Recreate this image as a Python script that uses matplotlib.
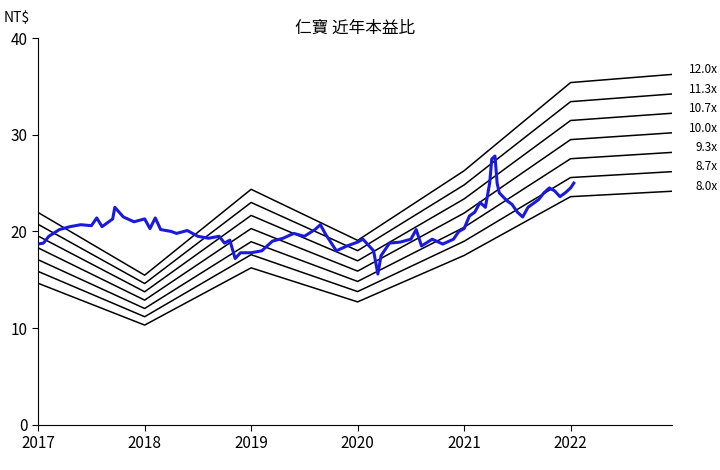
import matplotlib
matplotlib.use("Agg")
import numpy as np
from matplotlib import pyplot as plt
from matplotlib import font_manager

# pick any installed CJK font
cjk = [f.name for f in font_manager.fontManager.ttflist if "CJK" in f.name]
pref = [n for n in ["Noto Sans CJK TC", "Noto Sans CJK JP", "Noto Sans CJK SC", "Noto Sans CJK KR"] if n in cjk]
plt.rcParams["font.family"] = (pref or cjk[:1]) + ["DejaVu Sans"]

# EPS trajectory (yearly anchors) and multiples
eps_x = [2017.0, 2018.0, 2019.0, 2020.0, 2021.0, 2022.0, 2022.95]
eps_y = [1.83, 1.29, 2.03, 1.59, 2.19, 2.95, 3.02]
multiples = [8.0, 8.67, 9.33, 10.0, 10.67, 11.33, 12.0]
band_labels = ["8.0x", "8.7x", "9.3x", "10.0x", "10.7x", "11.3x", "12.0x"]

price_x = [2017.0, 2017.05, 2017.1, 2017.2, 2017.3, 2017.4, 2017.5, 2017.55, 2017.6, 2017.7,
           2017.72, 2017.8, 2017.9, 2018.0, 2018.05, 2018.1, 2018.15, 2018.25, 2018.3, 2018.4,
           2018.5, 2018.6, 2018.7, 2018.75, 2018.8, 2018.85, 2018.9, 2019.0, 2019.1, 2019.2,
           2019.3, 2019.4, 2019.5, 2019.6, 2019.65, 2019.7, 2019.8, 2019.9, 2020.0, 2020.05,
           2020.1, 2020.15, 2020.19, 2020.22, 2020.3, 2020.4, 2020.5, 2020.55, 2020.6, 2020.7,
           2020.8, 2020.9, 2020.95, 2021.0, 2021.05, 2021.1, 2021.15, 2021.2, 2021.24, 2021.26,
           2021.29, 2021.31, 2021.33, 2021.4, 2021.45, 2021.5, 2021.55, 2021.6, 2021.7, 2021.75,
           2021.8, 2021.85, 2021.9, 2021.95, 2022.0, 2022.03]
price_y = [18.7, 18.8, 19.5, 20.2, 20.5, 20.7, 20.6, 21.4, 20.5, 21.3,
           22.5, 21.5, 21.0, 21.3, 20.3, 21.4, 20.2, 20.0, 19.8, 20.1,
           19.5, 19.3, 19.5, 18.8, 19.1, 17.2, 17.8, 17.8, 18.0, 19.0,
           19.3, 19.8, 19.5, 20.2, 20.7, 19.7, 18.0, 18.5, 18.9, 19.2,
           18.6, 18.0, 15.6, 17.5, 18.8, 18.9, 19.2, 20.2, 18.5, 19.2,
           18.7, 19.2, 20.0, 20.3, 21.6, 22.0, 23.0, 22.5, 25.0, 27.5,
           27.8, 25.0, 24.0, 23.2, 22.8, 22.0, 21.5, 22.5, 23.3, 24.0,
           24.5, 24.2, 23.6, 24.0, 24.5, 25.0]

fig = plt.figure(figsize=(7.2, 4.7), dpi=100)
ax = fig.add_axes([0.053, 0.096, 0.88, 0.823])

eps_x = np.array(eps_x)
eps_y = np.array(eps_y)
for m, lab in zip(multiples, band_labels):
    ax.plot(eps_x, eps_y * m, color="black", linewidth=1.1)
    ax.annotate(lab, xy=(1.0, eps_y[-1] * m + 0.5), xycoords=("axes fraction", "data"),
                xytext=(33, 0), textcoords="offset points", va="center", ha="right",
                fontsize=8.5)

ax.plot(price_x, price_y, color="#1a1adf", linewidth=2.2)

ax.set_xlim(2017, 2022.95)
ax.set_ylim(0, 40)
ax.set_xticks([2017, 2018, 2019, 2020, 2021, 2022])
ax.set_yticks([0, 10, 20, 30, 40])
ax.tick_params(labelsize=11, direction="out", length=4)
ax.spines["top"].set_visible(False)
ax.spines["right"].set_visible(False)
ax.set_title("仁寶 近年本益比", fontsize=12, pad=4)
ax.text(-0.055, 1.035, "NT$", transform=ax.transAxes, fontsize=10, va="bottom")

fig.savefig("out.png", dpi=100)
